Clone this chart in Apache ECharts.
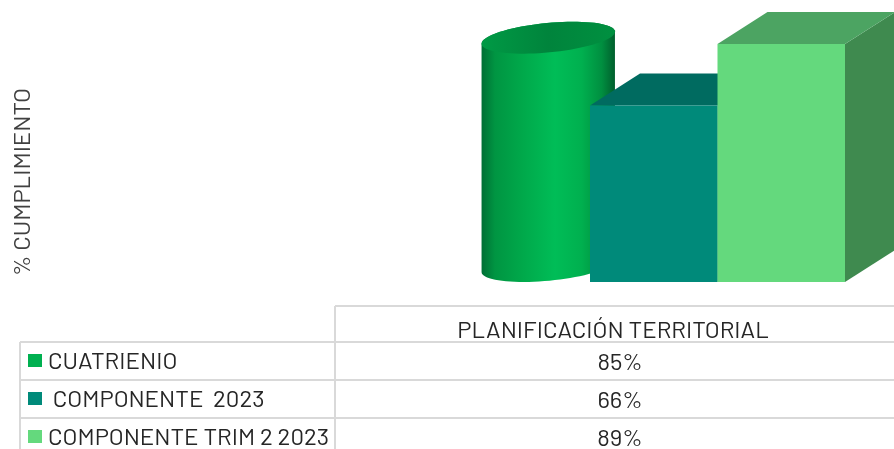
<!DOCTYPE html>
<html><head><meta charset="utf-8">
<style>html,body{margin:0;padding:0;background:#fff}#c{width:894px;height:449px}</style>
<script src="https://cdn.jsdelivr.net/npm/echarts@6/dist/echarts.min.js"></script>
</head><body><div id="c"></div>
<script>
const seriesNames = ['CUATRIENIO', ' COMPONENTE  2023', 'COMPONENTE TRIM 2 2023'];
const values = [85, 66, 89];
const groupName = ['PLANIFICACIÓN TERRITORIAL'];
const axisTitle = '% CUMPLIMIENTO';
const swatches = ['#00b050', '#008a7a', '#64d97d'];
const faceTop = ['#008a3e', '#006b60', '#4ca462'];
const faceSide = ['#007a38', '#006b60', '#3f8a4f'];

const chart = echarts.init(document.getElementById('c'), null, {renderer: 'canvas'});
const DX = 50, DY = 32, FONT = 'Barlow, Roboto, sans-serif', FS = 24;

function ellipsePts(cx, cy, a, b, tilt, from, to, n) {
  const pts = [], c = Math.cos(tilt), s = Math.sin(tilt);
  for (let i = 0; i <= n; i++) {
    const t = from + (to - from) * i / n;
    const x = a * Math.cos(t), y = b * Math.sin(t);
    pts.push([cx + x * c + y * s, cy - x * s + y * c]);
  }
  return pts;
}

function renderItem(params, api) {
  const i = api.value(0), v = api.value(1);
  const top = api.coord([i, v]), base = api.coord([i, 0]);
  const w = api.size([1, 0])[0];
  if (i === 0) {
    const a = 67, b = 14.7, tilt = 0.095;
    const cx = top[0] + 22;
    const cyT = top[1] - 17, cyB = base[1] - 16;
    const upper = ellipsePts(cx, cyT, a, b, tilt, Math.PI, 2 * Math.PI, 40);
    const lower = ellipsePts(cx, cyB, a, b, tilt, 0, Math.PI, 40);
    const body = upper.concat(lower);
    const cap = ellipsePts(cx, cyT, a, b, tilt, 0, 2 * Math.PI, 80);
    return {type: 'group', children: [
      {type: 'polygon', shape: {points: body}, style: {fill: new echarts.graphic.LinearGradient(0, 0, 1, 0, [
        {offset: 0, color: '#006f35'}, {offset: 0.1, color: '#009542'}, {offset: 0.3, color: '#00a84a'},
        {offset: 0.55, color: '#00bd57'}, {offset: 0.75, color: '#00b04f'}, {offset: 0.9, color: '#008f40'},
        {offset: 1, color: '#005f2d'}])}},
      {type: 'polygon', shape: {points: cap}, style: {fill: new echarts.graphic.LinearGradient(0, 0, 1, 0, [
        {offset: 0, color: '#009a45'}, {offset: 0.5, color: '#00843c'}, {offset: 1, color: '#009040'}])}}
    ]};
  }
  const l = base[0] - w / 2, r = base[0] + w / 2, t = top[1], bt = base[1];
  return {type: 'group', children: [
    {type: 'polygon', shape: {points: [[r, t], [r + DX, t - DY], [r + DX, bt - DY], [r, bt]]}, style: {fill: faceSide[i]}},
    {type: 'polygon', shape: {points: [[l, t], [l + DX, t - DY], [r + DX, t - DY], [r, t]]}, style: {fill: faceTop[i]}},
    {type: 'rect', shape: {x: l, y: t, width: w, height: bt - t}, style: {fill: swatches[i]}}
  ]};
}

const LINE = '#d9d9d9';
const rows = [342, 380, 418];
const hline = (x1, x2, y) => ({type: 'line', shape: {x1, y1: y, x2, y2: y}, style: {stroke: LINE, lineWidth: 2}, silent: true});
const vline = (x, y1, y2) => ({type: 'line', shape: {x1: x, y1, x2: x, y2}, style: {stroke: LINE, lineWidth: 2}, silent: true});
const txt = (x, y, text, align) => ({type: 'text', x, y, style: {text, fill: '#262626', font: FS + 'px ' + FONT, textAlign: align, textVerticalAlign: 'middle'}});

const graphics = [hline(335, 894, 306), vline(335, 306, 449), vline(20, 342, 449)];
rows.forEach(y => graphics.push(hline(20, 894, y)));
graphics.push(txt(613, 330, groupName[0], 'center'));
seriesNames.forEach((n, i) => {
  const y = rows[i] + 20;
  graphics.push({type: 'rect', shape: {x: 28, y: y - 8, width: 14, height: 13}, style: {fill: swatches[i]}});
  graphics.push({type: 'text', x: 48, y: y - 1, style: {text: n, fill: '#262626', font: FS + 'px ' + FONT, textAlign: 'left', textVerticalAlign: 'middle', whiteSpace: 'pre'}});
  graphics.push(txt(620, y, values[i] + '%', 'center'));
});
graphics.push({type: 'text', x: 22, y: 182, rotation: Math.PI / 2, style: {text: axisTitle, fill: '#404040', font: '24px ' + FONT, textAlign: 'center', textVerticalAlign: 'middle'}});

chart.setOption({
  animation: false,
  grid: {left: 462.5, width: 382.5, top: 14.6, height: 267.4},
  xAxis: {type: 'category', data: [0, 1, 2], show: false},
  yAxis: {type: 'value', min: 0, max: 100, show: false},
  series: [{type: 'custom', renderItem, clip: false, data: values.map((v, i) => [i, v]), encode: {x: 0, y: 1}}],
  graphic: graphics
});
</script></body></html>
